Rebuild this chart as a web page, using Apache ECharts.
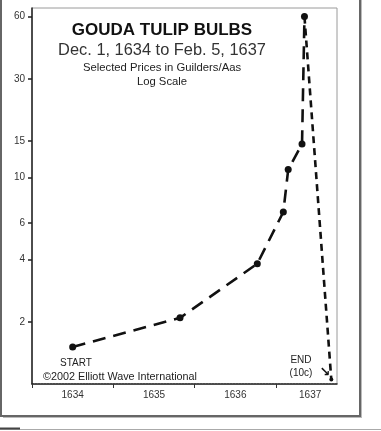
<!DOCTYPE html>
<html><head><meta charset="utf-8">
<script src="https://cdn.jsdelivr.net/npm/echarts@6/dist/echarts.min.js"></script>
<style>html,body{margin:0;padding:0;background:#fff}#c{width:381px;height:431px}</style>
</head><body><div id="c"></div><script>
// chart-time positions (as laid out on the original stylised axis) and prices in guilders
const xPositions = [1634.00, 1635.32, 1636.27, 1636.59, 1636.65, 1636.82, 1636.85];
const prices = [1.51, 2.09, 3.82, 6.8, 10.9, 14.5, 60];
const endPosition = 1637.18;
const endPrice = 1.05;
const yTickValues = [2, 4, 6, 10, 15, 30, 60];
const xTickValues = [1633.5, 1634.5, 1635.5, 1636.5];
const xLabelValues = [1634, 1635, 1636, 1636.92];
const xLabels = ['1634', '1635', '1636', '1637'];

const FONT = '"Liberation Sans", Arial, sans-serif';
const chart = echarts.init(document.getElementById('c'), null, {renderer: 'canvas'});

const riseData = xPositions.map((x, i) => [x, prices[i]]);
const crashData = [
  {value: [xPositions[xPositions.length - 1], prices[prices.length - 1]], symbol: 'none'},
  {value: [endPosition, endPrice], symbol: 'circle', symbolSize: 4}
];

chart.setOption({
  animation: false,
  backgroundColor: '#fff',
  grid: {left: 32, top: 8, width: 305, height: 376, show: true, borderColor: '#9a9a9a', borderWidth: 1, backgroundColor: 'transparent'},
  xAxis: {
    type: 'value', min: 1633.5, max: 1637.25,
    axisLine: {show: true, lineStyle: {color: '#222', width: 1.5, type: [2, 1]}},
    axisTick: {show: true, length: 4, customValues: xTickValues, lineStyle: {color: '#333'}},
    axisLabel: {
      customValues: xLabelValues, margin: 6, color: '#333', fontSize: 10, fontFamily: FONT,
      formatter: v => { const i = xLabelValues.findIndex(a => Math.abs(a - v) < 1e-6); return i >= 0 ? xLabels[i] : ''; }
    },
    splitLine: {show: false}
  },
  yAxis: {
    type: 'log', logBase: 10, min: 1, max: 66,
    axisLine: {show: true, lineStyle: {color: '#222', width: 1.5}},
    axisTick: {show: true, length: 4, customValues: yTickValues, lineStyle: {color: '#222', width: 1.5}},
    axisLabel: {customValues: yTickValues, margin: 7, color: '#333', fontSize: 10, fontFamily: FONT},
    splitLine: {show: false}
  },
  series: [
    {
      type: 'line', data: riseData, symbol: 'circle', symbolSize: 7,
      itemStyle: {color: '#111'},
      lineStyle: {color: '#111', width: 2.6, type: [13, 8]}
    },
    {
      type: 'line', data: crashData,
      itemStyle: {color: '#111'},
      lineStyle: {color: '#111', width: 2.6, type: [7, 5]}
    }
  ],
  graphic: [
    {type: 'rect', shape: {x: 1, y: -3, width: 359, height: 419}, style: {fill: 'none', stroke: '#666', lineWidth: 2}},
    {type: 'line', shape: {x1: 3, y1: 417.5, x2: 361, y2: 417.5}, style: {stroke: '#bbb', lineWidth: 1}},
    {type: 'line', shape: {x1: 361.5, y1: -2, x2: 361.5, y2: 418}, style: {stroke: '#bbb', lineWidth: 1}},
    {type: 'line', shape: {x1: 0, y1: 429.5, x2: 381, y2: 429.5}, style: {stroke: '#aaa', lineWidth: 1}},
    {type: 'line', shape: {x1: 0, y1: 428.5, x2: 20, y2: 428.5}, style: {stroke: '#444', lineWidth: 2}},
    {type: 'text', style: {x: 162, y: 30, text: 'GOUDA TULIP BULBS', textAlign: 'center', textVerticalAlign: 'middle', font: 'bold 17px ' + FONT, fill: '#111'}},
    {type: 'text', style: {x: 162, y: 50, text: 'Dec. 1, 1634 to Feb. 5, 1637', textAlign: 'center', textVerticalAlign: 'middle', font: '16.4px ' + FONT, fill: '#333'}},
    {type: 'text', style: {x: 162, y: 68, text: 'Selected Prices in Guilders/Aas', textAlign: 'center', textVerticalAlign: 'middle', font: '11.3px ' + FONT, fill: '#222'}},
    {type: 'text', style: {x: 162, y: 82, text: 'Log Scale', textAlign: 'center', textVerticalAlign: 'middle', font: '11.3px ' + FONT, fill: '#222'}},
    {type: 'text', style: {x: 76, y: 363, text: 'START', textAlign: 'center', textVerticalAlign: 'middle', font: '10px ' + FONT, fill: '#222'}},
    {type: 'text', style: {x: 120, y: 377, text: '\u00A92002 Elliott Wave International', textAlign: 'center', textVerticalAlign: 'middle', font: '10.8px ' + FONT, fill: '#222'}},
    {type: 'text', style: {x: 301, y: 360, text: 'END', textAlign: 'center', textVerticalAlign: 'middle', font: '10px ' + FONT, fill: '#222'}},
    {type: 'text', style: {x: 301, y: 373, text: '(10c)', textAlign: 'center', textVerticalAlign: 'middle', font: '10px ' + FONT, fill: '#222'}},
    {type: 'text', style: {x: 325, y: 373, text: '\u2198', textAlign: 'center', textVerticalAlign: 'middle', font: 'bold 13px "DejaVu Sans", sans-serif', fill: '#111'}}
  ]
});
</script></body></html>
